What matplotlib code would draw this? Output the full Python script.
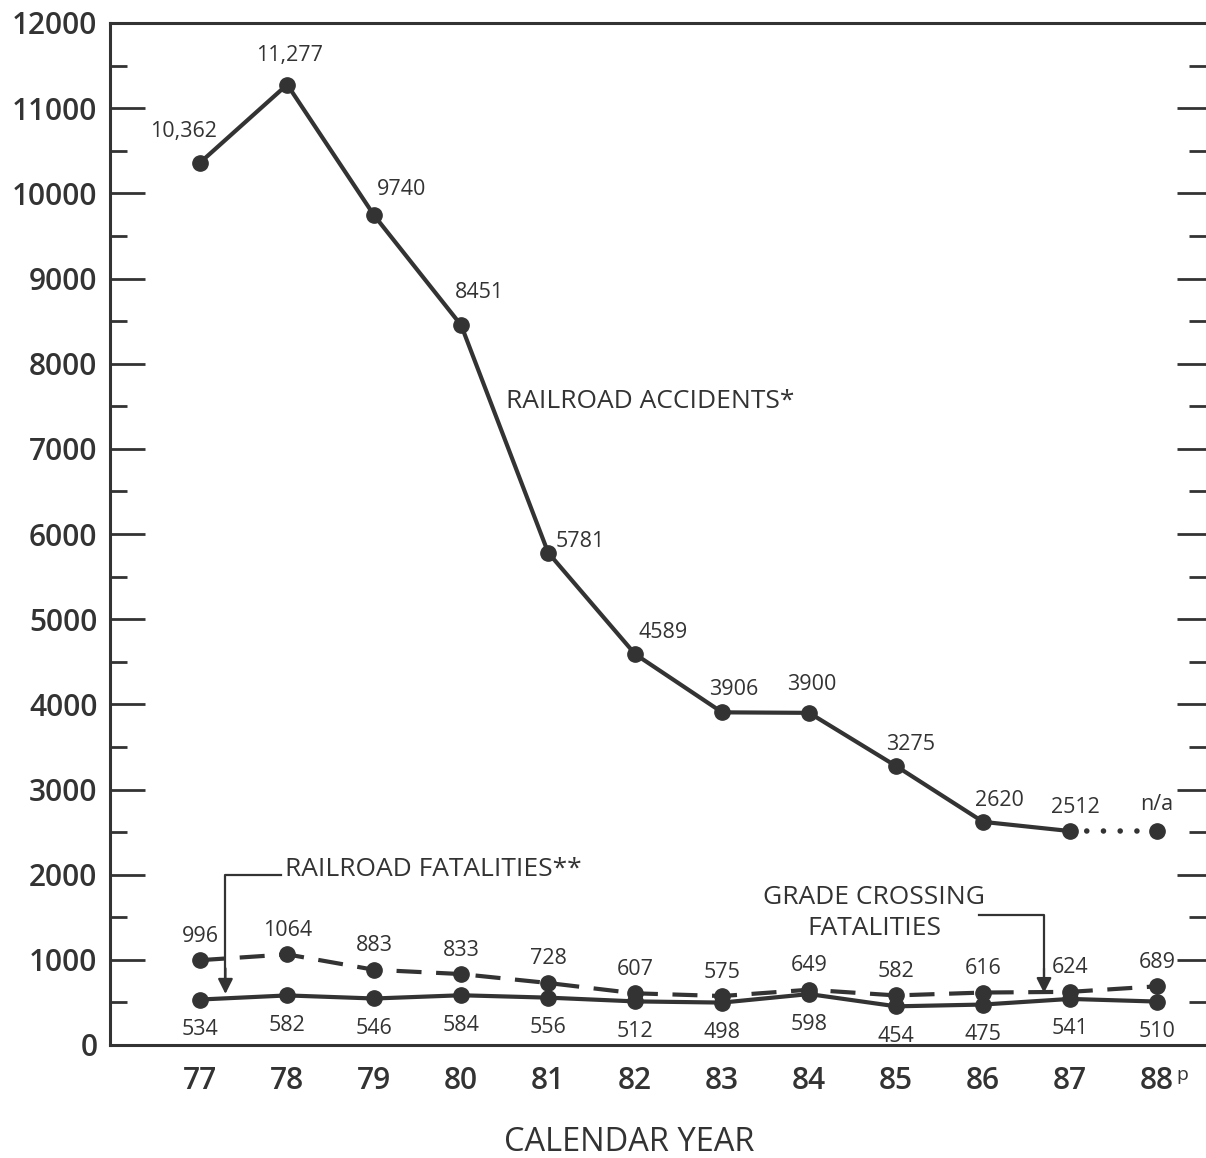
import matplotlib
matplotlib.use("Agg")
import matplotlib.pyplot as plt
from matplotlib.ticker import MultipleLocator

# ---------------- data ----------------
years = ["77", "78", "79", "80", "81", "82", "83", "84", "85", "86", "87", "88"]
railroad_accidents = [10362, 11277, 9740, 8451, 5781, 4589, 3906, 3900, 3275, 2620, 2512]
accident_labels = ["10,362", "11,277", "9740", "8451", "5781", "4589", "3906",
                   "3900", "3275", "2620", "2512", "n/a"]
railroad_fatalities = [996, 1064, 883, 833, 728, 607, 575, 649, 582, 616, 624, 689]
grade_crossing_fatalities = [534, 582, 546, 584, 556, 512, 498, 598, 454, 475, 541, 510]

# ---------------- style ----------------
INK = "#333333"
FONT = ["Open Sans", "DejaVu Sans"]
plt.rcParams["font.family"] = FONT

# label offsets (pixels) for the accident series
acc_offsets = [(-17, 31), (2, 29), (27, 26), (18, 33), (32, 11), (28, 22),
               (12, 23), (3, 28), (14, 22), (16, 21), (5, 24), (0, 27)]

fig = plt.figure(figsize=(12.06, 11.58), dpi=100)
ax = fig.add_axes([110 / 1206, 1 - 1045 / 1158, 1 - 110 / 1206 + 0.002, (1045 - 23) / 1158])

x = list(range(len(years)))
n_acc = len(railroad_accidents)

lw = 3.0
ms = 11
LBL = 15.5

# Railroad accidents (solid) + n/a placeholder (dotted)
ax.plot(x[:n_acc], railroad_accidents, color=INK, lw=lw, marker="o", ms=ms,
        solid_joinstyle="round", zorder=3)
na_level = railroad_accidents[-1]
ax.plot([x[n_acc - 1], x[n_acc]], [na_level, na_level], color=INK, lw=4.0,
        dashes=(0.01, 3.0), dash_capstyle="round", zorder=2)
ax.plot([x[n_acc]], [na_level], color=INK, marker="o", ms=ms, ls="none", zorder=3)

for i, lab in enumerate(accident_labels):
    yv = railroad_accidents[i] if i < n_acc else na_level
    dx, dy = acc_offsets[i]
    ax.annotate(lab, (x[i], yv), xytext=(dx, dy), textcoords="offset pixels",
                ha="center", va="center", fontsize=LBL, color=INK)

# Railroad fatalities (dashed)
ax.plot(x, railroad_fatalities, color=INK, lw=lw, marker="o", ms=ms,
        dashes=(6, 3.5), zorder=3)
for xi, v in zip(x, railroad_fatalities):
    ax.annotate(str(v), (xi, v), xytext=(0, 24), textcoords="offset pixels",
                ha="center", va="center", fontsize=LBL, color=INK)

# Grade crossing fatalities (solid)
ax.plot(x, grade_crossing_fatalities, color=INK, lw=lw, marker="o", ms=ms, zorder=3)
for xi, v in zip(x, grade_crossing_fatalities):
    ax.annotate(str(v), (xi, v), xytext=(0, -30), textcoords="offset pixels",
                ha="center", va="center", fontsize=LBL, color=INK)

# Annotations
ax.text(3.52, 7550, "RAILROAD ACCIDENTS*", fontsize=19, color=INK,
        ha="left", va="center")

ax.text(0.98, 2060, "RAILROAD FATALITIES**", fontsize=19, color=INK,
        ha="left", va="center")
ax.plot([0.93, 0.29, 0.29], [2000, 2000, 800], color=INK, lw=1.6, zorder=2)
ax.annotate("", xy=(0.29, 600), xytext=(0.29, 900),
            arrowprops=dict(arrowstyle="-|>,head_width=0.45,head_length=0.9",
                            color=INK, lw=1.6, shrinkA=0, shrinkB=0))

ax.text(7.75, 1550, "GRADE CROSSING\nFATALITIES", fontsize=19, color=INK,
        ha="center", va="center", linespacing=1.3)
ax.plot([8.95, 9.7, 9.7], [1530, 1530, 800], color=INK, lw=1.6, zorder=2)
ax.annotate("", xy=(9.7, 610), xytext=(9.7, 900),
            arrowprops=dict(arrowstyle="-|>,head_width=0.45,head_length=0.9",
                            color=INK, lw=1.6, shrinkA=0, shrinkB=0))

# Axes formatting
ax.set_xlim(-1.037, 11.59)
ax.set_ylim(0, 12000)
ax.set_xticks(x)
ax.set_xticklabels(years)
ax.yaxis.set_major_locator(MultipleLocator(1000))
ax.yaxis.set_minor_locator(MultipleLocator(500))

ax.tick_params(axis="x", length=0, pad=15, labelsize=21.5, labelcolor=INK)
ax.tick_params(axis="y", which="major", direction="in", length=25, width=2,
               color=INK, pad=9, labelsize=21.5, labelcolor=INK)
ax.tick_params(axis="y", which="minor", direction="in", length=12, width=2, color=INK)
for lab in ax.get_xticklabels() + ax.get_yticklabels():
    lab.set_fontweight("semibold")

for side in ("left", "bottom", "top"):
    ax.spines[side].set_color(INK)
    ax.spines[side].set_linewidth(2.2)
ax.spines["right"].set_visible(False)

# right-hand ticks
ax2 = ax.twinx()
ax2.set_ylim(ax.get_ylim())
ax2.yaxis.set_major_locator(MultipleLocator(1000))
ax2.yaxis.set_minor_locator(MultipleLocator(500))
ax2.tick_params(axis="y", which="major", direction="in", length=22, width=2,
                color=INK, labelright=False)
ax2.tick_params(axis="y", which="minor", direction="in", length=14, width=2, color=INK)
for s in ax2.spines.values():
    s.set_visible(False)

# superscript p on 88
ax.annotate("p", (x[-1], 0), xytext=(19, -30), textcoords="offset pixels",
            ha="left", va="center", fontsize=14, color=INK, annotation_clip=False)

ax.set_xlabel("CALENDAR YEAR", fontsize=23.5, color=INK)
ax.xaxis.set_label_coords((628 - 110) / 1096, -(1126 - 1045) / 1022)

fig.savefig("out.png", dpi=100, facecolor="white")
